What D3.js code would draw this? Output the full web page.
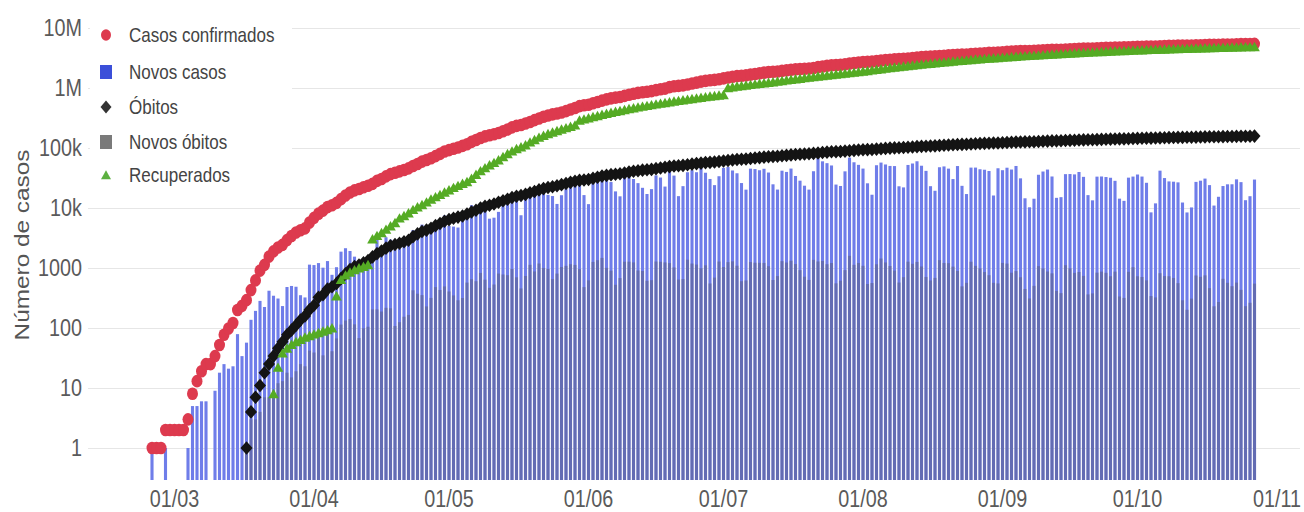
<!DOCTYPE html>
<html>
<head>
<meta charset="utf-8">
<script src="https://cdn.jsdelivr.net/npm/d3@7"></script>
<style>
  html, body { margin: 0; padding: 0; background: #fff; }
  svg { display: block; font-family: "Liberation Sans", Arial, sans-serif; }
</style>
</head>
<body>
<svg id="chart" width="1304" height="512"></svg>
<script>
// ---------------- DATA ----------------
const seriesNames = ["Casos confirmados", "Novos casos", "Óbitos", "Novos óbitos", "Recuperados"];
const xTickLabels = ["01/03", "01/04", "01/05", "01/06", "01/07", "01/08", "01/09", "01/10", "01/11"];
const yTickLabels = ["1", "10", "100", "1000", "10k", "100k", "1M", "10M"];
const yTickValues = [1, 10, 100, 1000, 1e4, 1e5, 1e6, 1e7];

// cumulative confirmed cases, one value per day from 25/02/2020 to 27/10/2020
const confirmedStart = "2020-02-25";
const confirmed = [
  1,1,1,2,2,
  2,2,2,3,8,13,19,25,25,34,52,77,98,121,200,234,291,428,621,904,1128,1546,1891,2201,2433,2915,3417,3904,4256,4579,5717,
  6836,8044,9056,10360,11130,12161,14034,16170,18092,19638,20727,22192,23430,25262,28320,30425,33682,36658,38654,40743,43079,45757,50036,54043,59324,63100,67446,73235,79685,87187,
  92202,97100,101826,108620,115455,126611,135773,146894,156061,162699,169594,178214,190137,203165,220291,233511,241080,255368,271628,291579,310087,330890,347398,363211,374898,391222,411821,438238,465166,498440,514849,
  526447,555383,584016,614941,645771,672846,691758,707412,739503,772416,802828,828810,850514,867624,888271,923189,955377,978142,1032913,1067579,1083341,1106470,1145906,1188631,1228114,1274974,1313667,1344143,1368195,1402041,
  1448753,1496858,1539081,1577004,1603055,1623284,1668589,1713160,1755779,1800827,1839850,1864681,1884967,1926824,1966748,2012151,2046328,2074860,2098389,2118646,2159654,2227514,2287475,2343366,2394513,2419091,2442375,2483191,2552265,2610102,2662485,
  2707877,2733677,2750318,2801921,2859073,2912212,2962442,3012412,3035422,3057470,3109630,3164785,3224876,3275520,3317096,3340197,3359570,3407354,3456652,3501975,3532330,3582362,3605783,3622861,3669995,3717156,3761391,3804803,3846153,3862311,3908272,
  3950931,3997865,4041638,4091801,4123000,4137521,4147794,4162073,4197889,4238446,4282164,4315687,4330455,4345610,4382263,4419083,4455386,4495183,4528240,4544629,4558040,4591364,4624885,4657702,4689613,4717991,4732309,4745464,4777522,4810935,
  4847092,4880523,4906833,4915289,4927235,4969141,5000694,5028444,5055888,5082637,5094979,5103408,5113628,5140863,5169386,5200300,5224362,5235344,5250727,5273954,5298772,5323630,5353656,5380635,5394128,5409854,5439641
];

// cumulative deaths, one value per day from 17/03/2020
const deathsStart = "2020-03-17";
const deaths = [
  1,4,7,11,18,25,34,46,59,77,92,111,136,159,201,
  240,324,359,445,486,553,667,800,941,1056,1124,1223,1328,1532,1736,1924,2141,2354,2462,2587,2741,2906,3331,3704,4057,4286,4603,5083,5513,6006,
  6412,6761,7051,7367,7938,8588,9190,10017,10656,11123,11653,12461,13240,13999,14962,15662,16118,16853,17983,18859,20047,21048,22013,22666,23473,24512,25598,26754,27878,28834,29314,
  29937,31199,32548,34021,35026,35930,36455,37134,38406,39680,40919,41828,42720,43332,43959,45241,46510,47748,48954,49976,50617,51271,52645,53830,54971,55961,57070,57622,58314,59594,
  60632,61884,63174,64265,64867,65487,66741,67964,69184,70398,71469,72100,72833,74133,75366,76688,77851,78772,79488,80120,81487,82771,84082,85238,86449,87004,87618,88539,90134,91263,92475,
  93563,94104,94665,95819,97256,98493,99572,100477,101049,101752,103026,104201,105463,106523,107232,107852,108536,109888,111100,112304,113358,114250,114744,115309,116580,117665,118649,119504,120262,120828,121381,
  122596,123780,124614,125502,126203,126650,126960,127464,128539,129522,130396,131210,131625,132006,133119,134106,134935,135793,136532,136895,137272,138108,138977,139808,140537,141406,141741,142058,142921,143952,
  144680,145388,146011,146352,146675,147494,148228,148957,149639,150198,150488,150689,150998,151747,152460,153214,153675,153905,154176,154837,155403,155900,156471,156903,157134,157397,157946
];

// cumulative recovered, one value per day from 23/03/2020
const recoveredStart = "2020-03-23";
const recovered = [
  8,22,38,46,53,59,64,70,74,
  79,83,88,93,100,340,640,760,850,930,1000,1060,1130,3046,3460,3850,4390,5010,5660,6780,7430,8230,9380,10400,11300,12500,14000,15300,16700,18300,
  19900,21800,23600,25500,27400,31000,36000,41500,46500,52000,57000,63000,71500,80000,88500,97000,104000,112000,125000,137000,150000,161000,172000,183000,193000,205000,216000,228000,240000,290000,302000,
  316000,331000,345000,360000,375000,389000,404000,418000,434000,449000,464000,479000,494000,508000,523000,538000,553000,568000,584000,600000,615000,630000,645000,661000,677000,694000,711000,727000,742000,756000,
  770000,1010000,1040000,1068000,1090000,1110000,1135000,1160000,1185000,1210000,1236000,1260000,1290000,1320000,1350000,1380000,1410000,1440000,1470000,1500000,1532000,1564000,1597000,1630000,1663000,1692000,1720000,1750000,1784000,1818000,1850000,
  1895000,1940000,1983000,2028000,2074000,2120000,2166000,2210000,2253000,2295000,2340000,2386000,2432000,2478000,2521000,2563000,2605000,2650000,2696000,2740000,2786000,2830000,2870000,2910000,2955000,3000000,3042000,3084000,3124000,3160000,3195000,
  3232000,3270000,3310000,3352000,3390000,3425000,3455000,3485000,3520000,3560000,3600000,3640000,3675000,3705000,3740000,3778000,3815000,3853000,3890000,3922000,3950000,3985000,4020000,4055000,4090000,4122000,4150000,4175000,4205000,4235000,
  4265000,4295000,4322000,4345000,4368000,4395000,4425000,4452000,4480000,4505000,4525000,4545000,4565000,4590000,4615000,4640000,4662000,4682000,4700000,4722000,4745000,4768000,4790000,4812000,4830000,4846000,4870000
];

// ---------------- helpers ----------------
const DAY = 864e5;
const parse = s => new Date(s + "T00:00:00Z");
const toPoints = (start, arr) => arr.map((v, i) => ({ date: new Date(parse(start).getTime() + i * DAY), value: v }));
// daily bars = day-to-day change of the cumulative counts
const toDaily = (start, arr) => arr.map((v, i) => ({ date: new Date(parse(start).getTime() + i * DAY), value: i === 0 ? v : v - arr[i - 1] }));

const confirmedPts = toPoints(confirmedStart, confirmed);
const deathPts = toPoints(deathsStart, deaths);
const recoveredPts = toPoints(recoveredStart, recovered);
const newCases = toDaily(confirmedStart, confirmed);
const newDeaths = toDaily(deathsStart, deaths);

// ---------------- layout ----------------
const svg = d3.select("#chart");
const plot = { left: 88, right: 1300, top: 20, bottom: 480 };

const x = d3.scaleUtc()
  .domain([parse("2020-03-01"), parse("2020-11-01")])
  .range([174.5, 1277]);

const y = d3.scaleLog()
  .domain([Math.pow(10, -32 / 60), 1e7])
  .range([480, 28]);

svg.append("defs").append("clipPath").attr("id", "clip")
  .append("rect").attr("x", plot.left).attr("y", 0)
  .attr("width", plot.right - plot.left).attr("height", plot.bottom);

// gridlines
svg.append("g").selectAll("line").data(yTickValues).join("line")
  .attr("x1", plot.left).attr("x2", plot.right)
  .attr("y1", d => Math.round(y(d)) + 0.5).attr("y2", d => Math.round(y(d)) + 0.5)
  .attr("stroke", "#e6e6e6").attr("stroke-width", 1);

// y tick labels
svg.append("g").selectAll("text").data(yTickValues).join("text")
  .attr("transform", d => `translate(82,${y(d)}) scale(0.86,1)`)
  .attr("text-anchor", "end").attr("dominant-baseline", "central")
  .attr("font-size", 23).attr("fill", "#5a5a5a")
  .text((d, i) => yTickLabels[i]);

// x tick labels
const xTicks = xTickLabels.map((lab, i) => ({ lab, date: new Date(Date.UTC(2020, 2 + i, 1)) }));
svg.append("g").selectAll("text").data(xTicks).join("text")
  .attr("transform", d => `translate(${x(d.date)},499) scale(0.86,1)`)
  .attr("text-anchor", "middle").attr("dominant-baseline", "central")
  .attr("font-size", 23).attr("fill", "#5a5a5a")
  .text(d => d.lab);

// y axis title
svg.append("text")
  .attr("transform", "translate(22,245) rotate(-90) scale(1.16,1)")
  .attr("text-anchor", "middle").attr("dominant-baseline", "central")
  .attr("font-size", 21).attr("fill", "#555")
  .text("Número de casos");

const g = svg.append("g").attr("clip-path", "url(#clip)");
const barW = 3.1;

// new cases bars
g.append("g").selectAll("rect").data(newCases.filter(d => d.value > 0)).join("rect")
  .attr("x", d => x(d.date) - barW / 2).attr("width", barW)
  .attr("y", d => y(d.value)).attr("height", d => plot.bottom - y(d.value))
  .attr("fill", "#6f7de9");

// new deaths bars
g.append("g").selectAll("rect").data(newDeaths.filter(d => d.value > 0)).join("rect")
  .attr("x", d => x(d.date) - barW / 2).attr("width", barW)
  .attr("y", d => y(d.value)).attr("height", d => plot.bottom - y(d.value))
  .attr("fill", "#5c6090").attr("fill-opacity", 0.6);

// deaths diamonds
const diamond = "M0,-6.8L6,0L0,6.8L-6,0Z";
g.append("g").selectAll("path").data(deathPts).join("path")
  .attr("d", diamond)
  .attr("transform", d => `translate(${x(d.date)},${y(d.value)})`)
  .attr("fill", "#141414");

// confirmed circles
g.append("g").selectAll("ellipse").data(confirmedPts).join("ellipse")
  .attr("cx", d => x(d.date)).attr("cy", d => y(d.value))
  .attr("rx", 5.5).attr("ry", 6.3)
  .attr("fill", "#dd3a4e");

// recovered triangles
const tri = "M0,-5L5.3,4.4L-5.3,4.4Z";
g.append("g").selectAll("path").data(recoveredPts).join("path")
  .attr("d", tri)
  .attr("transform", d => `translate(${x(d.date)},${y(d.value)})`)
  .attr("fill", "#55ab24");

// ---------------- legend ----------------
const legend = svg.append("g");
legend.append("rect").attr("x", 90).attr("y", 14).attr("width", 202).attr("height", 180).attr("fill", "#fff");
const rows = [35, 72, 107, 142, 175];
const markers = [
  sel => sel.append("ellipse").attr("rx", 5).attr("ry", 5.8).attr("fill", "#dd3a4e"),
  sel => sel.append("rect").attr("x", -6).attr("y", -7).attr("width", 12).attr("height", 14).attr("fill", "#3b4fd9"),
  sel => sel.append("path").attr("d", "M0,-6.5L5.5,0L0,6.5L-5.5,0Z").attr("fill", "#333"),
  sel => sel.append("rect").attr("x", -6).attr("y", -7).attr("width", 12).attr("height", 14).attr("fill", "#7a7a7a"),
  sel => sel.append("path").attr("d", "M0,-4.8L5,4.2L-5,4.2Z").attr("fill", "#5cb040")
];
seriesNames.forEach((name, i) => {
  const item = legend.append("g").attr("transform", `translate(106,${rows[i]})`);
  markers[i](item);
  item.append("text")
    .attr("transform", "translate(23,0) scale(0.81,1)")
    .attr("dominant-baseline", "central")
    .attr("font-size", 21).attr("fill", "#444")
    .text(name);
});
</script>
</body>
</html>
